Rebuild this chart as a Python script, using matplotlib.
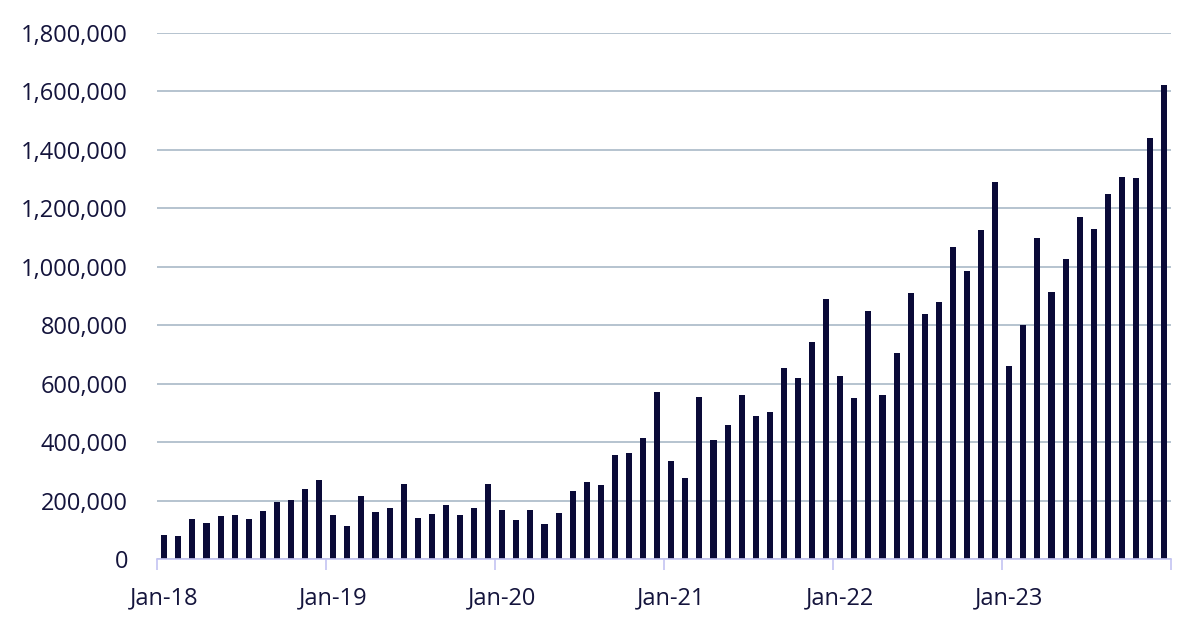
import matplotlib
matplotlib.use("Agg")
import matplotlib.pyplot as plt
from matplotlib.ticker import FuncFormatter, FixedLocator

months = [f"{m}-{y}" for y in range(18, 24) for m in
          ["Jan", "Feb", "Mar", "Apr", "May", "Jun", "Jul", "Aug", "Sep", "Oct", "Nov", "Dec"]]

v2018 = [81000, 79000, 138000, 124000, 146000, 149000, 136000, 163000, 196000, 202000, 239000, 271000]
v2019 = [152000, 113000, 215000, 160000, 173000, 255000, 140000, 154000, 184000, 149000, 176000, 257000]
v2020 = [166000, 132000, 169000, 121000, 156000, 233000, 264000, 253000, 355000, 363000, 413000, 573000]
v2021 = [337000, 277000, 555000, 408000, 458000, 561000, 490000, 502000, 652000, 619000, 744000, 890000]
v2022 = [625000, 551000, 847000, 562000, 705000, 909000, 839000, 878000, 1067000, 986000, 1127000, 1291000]
v2023 = [659000, 801000, 1098000, 914000, 1028000, 1169000, 1130000, 1248000, 1308000, 1304000, 1441000, 1623000]
values = v2018 + v2019 + v2020 + v2021 + v2022 + v2023

yticks = [0, 200000, 400000, 600000, 800000, 1000000, 1200000, 1400000, 1600000, 1800000]
year_labels = ["Jan-18", "Jan-19", "Jan-20", "Jan-21", "Jan-22", "Jan-23"]

plt.rcParams['font.family'] = ['Open Sans', 'DejaVu Sans']
text_color = "#14143c"
bar_color = "#0a0a38"

fig = plt.figure(figsize=(12, 6.35), dpi=100)
ax = fig.add_axes([0.131, 0.1197, 0.845, 0.8283])

x = list(range(len(values)))
ax.bar(x, values, width=0.43, color=bar_color, zorder=3)

ax.set_xlim(-0.5, len(values) - 0.5)
ax.set_ylim(0, 1800000)
ax.set_yticks(yticks)
ax.yaxis.set_major_formatter(FuncFormatter(lambda v, p: f"{int(v):,}"))
ax.tick_params(axis='y', length=0, pad=21, labelsize=17, labelcolor=text_color)
ax.grid(axis='y', color="#b0becb", linewidth=1.3, zorder=0)

# year boundaries (ticks) and labels at January bars
ax.xaxis.set_major_locator(FixedLocator([i - 0.5 for i in range(0, len(values) + 1, 12)]))
ax.xaxis.set_major_formatter(FuncFormatter(lambda v, p: ""))
ax.xaxis.set_minor_locator(FixedLocator([i for i in range(0, len(values), 12)]))
ax.set_xticklabels(year_labels, minor=True)
ax.tick_params(axis='x', which='major', length=8, width=1.2, color="#c4c4f2", direction='out')
ax.tick_params(axis='x', which='minor', length=0, pad=20, labelsize=17, labelcolor=text_color)

for s in ['top', 'right', 'left']:
    ax.spines[s].set_visible(False)
ax.spines['bottom'].set_color("#c4c4f2")
ax.spines['bottom'].set_linewidth(1.2)
ax.spines['bottom'].set_zorder(4)

fig.savefig("out.png", dpi=100)
